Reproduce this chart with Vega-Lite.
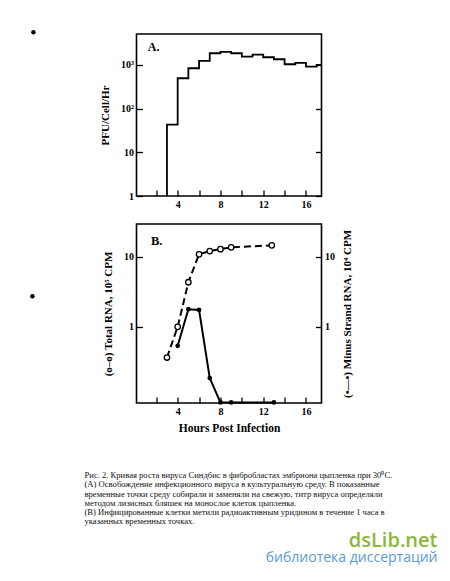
{
  "$schema": "https://vega.github.io/schema/vega-lite/v6.json",
  "background": "white",
  "padding": {"left": 28.5, "top": 29, "right": 5, "bottom": 5},
  "bounds": "flush",
  "spacing": 28,
  "datasets": {
    "release": [
      {"h": 3, "v": 1}, {"h": 3, "v": 43.2}, {"h": 4, "v": 495}, {"h": 5, "v": 838},
      {"h": 6, "v": 1231}, {"h": 7, "v": 1848}, {"h": 8, "v": 1978}, {"h": 9, "v": 1848},
      {"h": 10, "v": 1553}, {"h": 11, "v": 1726}, {"h": 12, "v": 1496}, {"h": 13, "v": 1347},
      {"h": 14, "v": 1035}, {"h": 15, "v": 1109}, {"h": 16, "v": 917}, {"h": 17, "v": 997},
      {"h": 18, "v": 997}
    ],
    "total": [
      {"h": 3, "v": 0.36}, {"h": 4, "v": 0.99}, {"h": 5, "v": 4.3}, {"h": 6, "v": 10.8},
      {"h": 7, "v": 12.0}, {"h": 8, "v": 12.8}, {"h": 9, "v": 13.6}, {"h": 12.8, "v": 14.5}
    ],
    "minus": [
      {"h": 4, "v": 0.53}, {"h": 5, "v": 1.77}, {"h": 6, "v": 1.73}, {"h": 7, "v": 0.183},
      {"h": 8, "v": 0.082}, {"h": 9, "v": 0.082}, {"h": 13, "v": 0.082}
    ],
    "holes": [
      {"h": -9.49, "v": 5594}, {"h": -9.58, "v": 0.00508}
    ],
    "caption": [
      {"line": 1, "text": "Рис. 2. Кривая роста вируса Синдбис в фибробластах эмбриона цыпленка при 30⁰С."},
      {"line": 2, "text": "(A) Освобождение инфекционного вируса в культуральную среду. В показанные"},
      {"line": 3, "text": "временные точки среду собирали и заменяли на свежую, титр вируса определяли"},
      {"line": 4, "text": "методом лизисных бляшек на монослое клеток цыпленка."},
      {"line": 5, "text": "(B) Инфицированные клетки метили радиоактивным уридином в течение 1 часа в"},
      {"line": 6, "text": "указанных временных точках."}
    ]
  },
  "vconcat": [
    {
      "width": 185,
      "height": 162,
      "layer": [
        {
          "layer": [
            {
              "data": {"name": "release"},
              "mark": {"type": "line", "interpolate": "step-after", "clip": true, "color": "black", "strokeWidth": 1.8},
              "encoding": {
                "x": {"field": "h", "type": "quantitative", "scale": {"domain": [0.15, 17.45], "nice": false, "zero": false},
                      "axis": {"orient": "bottom", "values": [4, 8, 12, 16], "format": "d", "title": null}},
                "y": {"field": "v", "type": "quantitative", "scale": {"type": "log", "domain": [1, 5100], "nice": false},
                      "axis": {"orient": "left", "values": [1, 10, 100, 1000], "labelExpr": "datum.value == 1 ? '1' : datum.value == 10 ? '10' : datum.value == 100 ? '10²' : '10³'", "title": "PFU/Cell/Hr"}}
              }
            },
            {
              "data": {"values": [{"t": "A."}]},
              "mark": {"type": "text", "align": "left", "baseline": "alphabetic", "font": "Liberation Serif", "fontWeight": "bold", "fontSize": 12, "color": "black"},
              "encoding": {
                "x": {"datum": 1.2, "type": "quantitative"},
                "y": {"datum": 2050, "type": "quantitative"},
                "text": {"field": "t"}
              }
            },
            {
              "data": {"name": "holes"},
              "mark": {"type": "point", "shape": "circle", "filled": true, "color": "black", "size": 20, "opacity": 1, "clip": false},
              "encoding": {
                "x": {"field": "h", "type": "quantitative"},
                "y": {"field": "v", "type": "quantitative"}
              }
            }
          ]
        },
        {
          "data": {"name": "release"},
          "mark": {"type": "line", "interpolate": "step-after", "clip": true, "strokeOpacity": 0},
          "encoding": {
            "x": {"field": "h", "type": "quantitative",
                  "axis": {"orient": "bottom", "values": [2, 6, 10, 14], "labels": false, "title": null}},
            "y": {"field": "v", "type": "quantitative", "scale": {"type": "log", "domain": [1, 5100], "nice": false},
                  "axis": {"orient": "right", "values": [1, 10, 100, 1000], "labels": false, "title": null}}
          }
        }
      ],
      "resolve": {"scale": {"y": "independent"}, "axis": {"x": "independent"}}
    },
    {
      "width": 185,
      "height": 179,
      "layer": [
        {
          "layer": [
            {
              "data": {"name": "total"},
              "mark": {"type": "line", "color": "black", "strokeWidth": 2, "strokeDash": [7, 4]},
              "encoding": {
                "x": {"field": "h", "type": "quantitative", "scale": {"domain": [0.15, 17.45], "nice": false, "zero": false},
                      "axis": {"orient": "bottom", "values": [4, 8, 12, 16], "format": "d", "title": "Hours Post Infection", "titleFontSize": 11.5, "titlePadding": 6}},
                "y": {"field": "v", "type": "quantitative", "scale": {"type": "log", "domain": [0.0805, 29.3], "nice": false},
                      "axis": {"orient": "left", "values": [1, 10], "format": "~g", "title": "(o–o) Total RNA, 10⁵ CPM"}}
              }
            },
            {
              "data": {"name": "total"},
              "mark": {"type": "point", "shape": "circle", "filled": true, "fill": "white", "stroke": "black", "strokeWidth": 1.3, "size": 30, "opacity": 1},
              "encoding": {
                "x": {"field": "h", "type": "quantitative"},
                "y": {"field": "v", "type": "quantitative"}
              }
            },
            {
              "data": {"values": [{"t": "B."}]},
              "mark": {"type": "text", "align": "left", "baseline": "alphabetic", "font": "Liberation Serif", "fontWeight": "bold", "fontSize": 12.5, "color": "black"},
              "encoding": {
                "x": {"datum": 1.5, "type": "quantitative"},
                "y": {"datum": 14.7, "type": "quantitative"},
                "text": {"field": "t"}
              }
            }
          ]
        },
        {
          "layer": [
            {
              "data": {"name": "minus"},
              "mark": {"type": "line", "color": "black", "strokeWidth": 2},
              "encoding": {
                "x": {"field": "h", "type": "quantitative",
                      "axis": {"orient": "bottom", "values": [2, 6, 10, 14], "labels": false, "title": null}},
                "y": {"field": "v", "type": "quantitative", "scale": {"type": "log", "domain": [0.0805, 29.3], "nice": false},
                      "axis": {"orient": "right", "values": [1, 10], "format": "~g", "title": "(•—•) Minus Strand RNA, 10⁴ CPM", "titleAngle": 270, "titlePadding": 18}}
              }
            },
            {
              "data": {"name": "minus"},
              "mark": {"type": "point", "shape": "circle", "filled": true, "color": "black", "size": 22, "opacity": 1},
              "encoding": {
                "x": {"field": "h", "type": "quantitative"},
                "y": {"field": "v", "type": "quantitative"}
              }
            }
          ]
        }
      ],
      "resolve": {"scale": {"y": "independent"}, "axis": {"x": "independent"}}
    },
    {
      "width": 301,
      "height": 100,
      "view": {"stroke": null},
      "data": {"name": "caption"},
      "mark": {"type": "text", "align": "left", "baseline": "alphabetic", "font": "Liberation Serif", "fontSize": 8.6, "dx": -52, "color": "#111111"},
      "encoding": {
        "x": {"datum": 0, "type": "quantitative", "scale": {"domain": [0, 1]}, "axis": null},
        "y": {"field": "line", "type": "quantitative", "scale": {"domain": [-4.05, 6.7], "reverse": true, "nice": false, "zero": false}, "axis": null},
        "text": {"field": "text"}
      },
      "title": {
        "text": "dsLib.net",
        "subtitle": "библиотека диссертаций",
        "orient": "bottom",
        "anchor": "end",
        "font": "Open Sans",
        "fontSize": 20,
        "fontWeight": 600,
        "color": "#8db63c",
        "subtitleFont": "Open Sans",
        "subtitleFontSize": 14,
        "subtitleColor": "#5a9bd4",
        "offset": 0,
        "subtitlePadding": 0
      }
    }
  ],
  "config": {
    "view": {"stroke": "black", "strokeWidth": 1.6},
    "font": "Liberation Serif",
    "axis": {
      "domain": false,
      "grid": false,
      "tickColor": "black",
      "tickWidth": 1.3,
      "tickSize": -6,
      "labelPadding": 9,
      "labelFlush": false,
      "labelOverlap": false,
      "labelFont": "Liberation Serif",
      "labelFontWeight": "bold",
      "labelFontSize": 10,
      "labelColor": "black",
      "titleFont": "Liberation Serif",
      "titleFontWeight": "bold",
      "titleFontSize": 11,
      "titleColor": "black",
      "titlePadding": 10
    }
  }
}
